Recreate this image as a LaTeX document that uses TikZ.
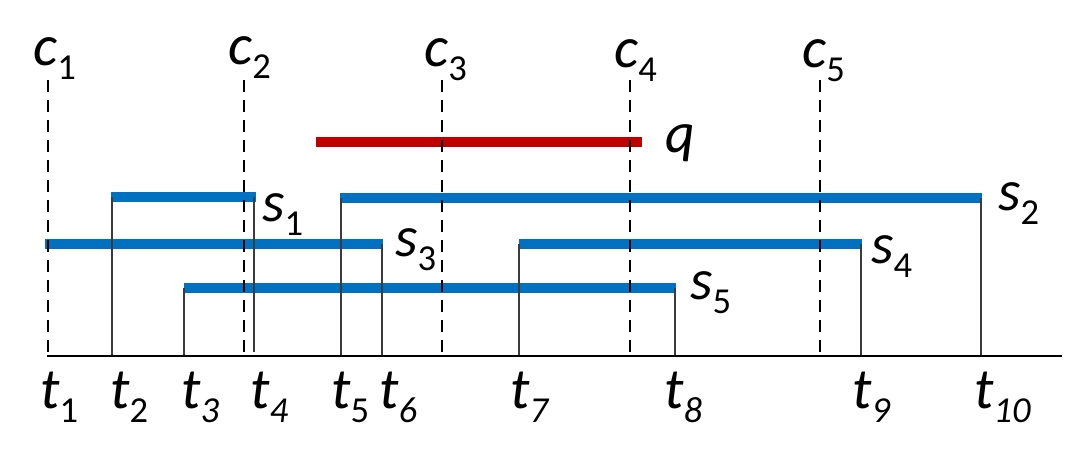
\documentclass[tikz,border=0pt]{standalone}
\usepackage{fontspec}
\setmainfont{Carlito}
\usepackage{tikz}
\usetikzlibrary{positioning}
\definecolor{segblue}{RGB}{0,112,192}
\definecolor{qred}{RGB}{192,0,0}
\definecolor{tickgray}{RGB}{60,60,60}
\tikzstyle{seg} = [line width=7pt, segblue]
\tikzstyle{query} = [line width=7pt, qred]
\tikzstyle{drop} = [line width=1pt, tickgray]
\tikzstyle{cand} = [line width=1.7pt, dash pattern=on 0.3cm off 0.2cm]
\tikzstyle{axisline} = [line width=1.4pt]
\tikzstyle{lbl} = [anchor=base west, inner sep=0pt, font=\fontsize{41}{48}\selectfont]
\newcommand{\lblsub}[2]{\textit{#1}\raisebox{-0.37cm}{\fontsize{26}{30}\selectfont #2}}

\begin{document}
\begin{tikzpicture}[x=0.025cm, y=-0.025cm]
            \useasboundingbox (0,0) rectangle (1080,455);

            % Place points on the time axis
            \coordinate (t0) at (47,356);
            \coordinate (tend) at (1062,356);
            \coordinate (t1) at (48,356);
            \coordinate (t2) at (112,356);
            \coordinate (t3) at (184,356);
            \coordinate (t4) at (254,352);
            \coordinate (t5) at (341,356);
            \coordinate (t6) at (382,356);
            \coordinate (t7) at (519,356);
            \coordinate (t8) at (675,356);
            \coordinate (t9) at (861,356);
            \coordinate (t10) at (981,356);

            % Segment ends
            \coordinate (qa) at (316,142);  \coordinate (qb) at (642,142);
            \coordinate (s1a) at (111,197); \coordinate (s1b) at (256,197);
            \coordinate (s2a) at (340,198); \coordinate (s2b) at (982,198);
            \coordinate (s3a) at (45,244);  \coordinate (s3b) at (383,244);
            \coordinate (s4a) at (519,244); \coordinate (s4b) at (862,244);
            \coordinate (s5a) at (184,288); \coordinate (s5b) at (676,288);

            % Draw segments
            \draw [query] (qa) -- (qb);
            \draw [seg] (s1a) -- (s1b);
            \draw [seg] (s2a) -- (s2b);
            \draw [seg] (s3a) -- (s3b);
            \draw [seg] (s4a) -- (s4b);
            \draw [seg] (s5a) -- (s5b);

            % Draw drops to the axis
            \draw [drop] (t2) -- (t2 |- s1a);
            \draw [drop] (t4) -- (t4 |- s1a);
            \draw [drop] (t5) -- (t5 |- s2a);
            \draw [drop] (t10) -- (t10 |- s2a);
            \draw [drop] (t6) -- (t6 |- s3a);
            \draw [drop] (t7) -- (t7 |- s4a);
            \draw [drop] (t9) -- (t9 |- s4a);
            \draw [drop] (t3) -- (t3 |- s5a);
            \draw [drop] (t8) -- (t8 |- s5a);

            % Candidate lines
            \coordinate (c1top) at (48,80);   \coordinate (c1bot) at (48,356);
            \coordinate (c2top) at (244,80);  \coordinate (c2bot) at (244,356);
            \coordinate (c3top) at (442,80);  \coordinate (c3bot) at (442,356);
            \coordinate (c4top) at (630,80);  \coordinate (c4bot) at (630,356);
            \coordinate (c5top) at (820,80);  \coordinate (c5bot) at (820,356);
            \draw [cand] (c1top) -- (c1bot);
            \draw [cand] (c2top) -- (c2bot);
            \draw [cand] (c3top) -- (c3bot);
            \draw [cand] (c4top) -- (c4bot);
            \draw [cand] (c5top) -- (c5bot);

            \draw [axisline] (t0) -- (tend);

            % Labels
            \node (c1lbl) [lbl] at (33,65) {\lblsub{c}{1}};
            \node (c2lbl) [lbl] at (228,64) {\lblsub{c}{2}};
            \node (c3lbl) [lbl] at (424,66) {\lblsub{c}{3}};
            \node (c4lbl) [lbl] at (614,67) {\lblsub{c}{4}};
            \node (c5lbl) [lbl] at (802,67) {\lblsub{c}{5}};
            \node (qlbl) [lbl] at (665,152) {\textit{q}};
            \node (s1lbl) [lbl] at (262,221) {\lblsub{s}{1}};
            \node (s2lbl) [lbl] at (998,210) {\lblsub{s}{2}};
            \node (s3lbl) [lbl] at (395,256) {\lblsub{s}{3}};
            \node (s4lbl) [lbl] at (871,263) {\lblsub{s}{4}};
            \node (s5lbl) [lbl] at (690,299) {\lblsub{s}{5}};
            \node (t1lbl) [lbl] at (40,408) {\lblsub{t}{1}};
            \node (t2lbl) [lbl] at (110,408) {\lblsub{t}{2}};
            \node (t3lbl) [lbl] at (181,408) {\lblsub{t}{\textit{3}}};
            \node (t4lbl) [lbl] at (250,408) {\lblsub{t}{\textit{4}}};
            \node (t5lbl) [lbl] at (331,408) {\lblsub{t}{5}};
            \node (t6lbl) [lbl] at (379,408) {\lblsub{t}{\textit{6}}};
            \node (t7lbl) [lbl] at (510,408) {\lblsub{t}{\textit{7}}};
            \node (t8lbl) [lbl] at (664,408) {\lblsub{t}{\textit{8}}};
            \node (t9lbl) [lbl] at (852,408) {\lblsub{t}{\textit{9}}};
            \node (t10lbl) [lbl] at (974,408) {\lblsub{t}{\textit{10}}};
        \end{tikzpicture}
\end{document}
